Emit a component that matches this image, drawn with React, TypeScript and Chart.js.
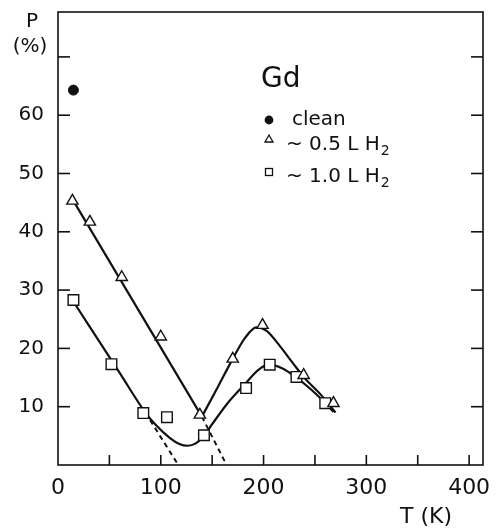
import React, { useEffect, useRef } from "react";
import { Chart, registerables } from "chart.js";
Chart.register(...registerables);

const cleanT = [15];
const cleanP = [64.3];
const lowT = [14, 31, 62, 100, 138, 170, 199, 239, 268];
const lowP = [45.3, 41.7, 32.2, 22.0, 8.6, 18.2, 24.0, 15.4, 10.6];
const highT = [15, 52, 83, 106, 142, 183, 206, 232, 260];
const highP = [28.3, 17.3, 8.9, 8.2, 5.1, 13.2, 17.2, 15.1, 10.6];

// Guide curves
const lowLineT = [14, 140];
const lowLineP = [45.6, 8.3];
const lowCurveT = [140, 155, 170, 182, 193, 203, 215, 228, 240, 255, 270];
const lowCurveP = [8.3, 13.2, 18.2, 21.8, 23.6, 23.0, 20.6, 17.6, 14.9, 12.2, 9.0];
const highCurveT = [14, 60, 85, 95, 109, 118, 126, 134, 142, 150, 165, 182, 195, 205, 218, 232, 246, 259, 268];
const highCurveP = [28.3, 15.8, 9.0, 6.9, 4.6, 3.6, 3.3, 3.7, 5.0, 7.0, 10.6, 13.9, 16.3, 17.2, 16.6, 15.0, 13.0, 10.8, 9.1];
const lowDashT = [140, 164];
const lowDashP = [8.3, 0];
const highDashT = [85, 117];
const highDashP = [9.0, 0];

// Axis ticks
const xTickValues = [0, 50, 100, 150, 200, 250, 300, 350, 400];
const xLabelValues = [0, 100, 200, 300, 400];
const yTickValues = [10, 20, 30, 40, 50, 60, 70];
const yLabelValues = [10, 20, 30, 40, 50, 60];

const xTitle = "T (K)";
const yTitle1 = "P";
const yTitle2 = "(%)";
const elementLabel = "Gd";
const legendLabels = ["clean", "~ 0.5 L H", "~ 1.0 L H"];

const INK = "#111";
const FONT = "'DejaVu Sans', sans-serif";

const pts = (xs: number[], ys: number[]) => xs.map((x, i) => ({ x, y: ys[i] }));

const decor = {
  id: "decor",
  afterDraw(chart: any) {
    const { ctx, chartArea: a, scales } = chart;
    const x = scales.x;
    const y = scales.y;
    ctx.save();
    ctx.strokeStyle = INK;
    ctx.lineWidth = 1.6;
    ctx.strokeRect(a.left, a.top, a.right - a.left, a.bottom - a.top);
    const line = (x1: number, y1: number, x2: number, y2: number) => {
      ctx.beginPath();
      ctx.moveTo(x1, y1);
      ctx.lineTo(x2, y2);
      ctx.stroke();
    };
    xTickValues.forEach((v) => {
      if (v === 0) return;
      const px = x.getPixelForValue(v);
      line(px, a.bottom, px, a.bottom - 10);
    });
    yTickValues.forEach((v) => {
      const py = y.getPixelForValue(v);
      line(a.left, py, a.left + 12, py);
      line(a.right, py, a.right - 12, py);
    });

    ctx.fillStyle = INK;
    ctx.textBaseline = "alphabetic";
    ctx.textAlign = "center";
    ctx.font = `20px ${FONT}`;
    ctx.fillText(yTitle1, 32, 27);
    ctx.fillText(yTitle2, 30, 52);
    ctx.font = `22px ${FONT}`;
    ctx.fillText(xTitle, 426, 523);

    ctx.textAlign = "left";
    ctx.font = `28px ${FONT}`;
    ctx.fillText(elementLabel, 261, 87);

    // legend
    ctx.font = `20px ${FONT}`;
    ctx.fillText(legendLabels[0], 292, 125);
    const sub = (label: string, bx: number, by: number) => {
      ctx.font = `20px ${FONT}`;
      ctx.fillText(label, bx, by);
      const w = ctx.measureText(label).width;
      ctx.font = `14px ${FONT}`;
      ctx.fillText("2", bx + w + 1, by + 5);
    };
    sub(legendLabels[1], 286, 150);
    sub(legendLabels[2], 286, 182);

    ctx.beginPath();
    ctx.arc(269, 120, 4.4, 0, Math.PI * 2);
    ctx.fill();
    ctx.lineWidth = 1.3;
    ctx.beginPath();
    ctx.moveTo(269, 135);
    ctx.lineTo(273, 142);
    ctx.lineTo(265, 142);
    ctx.closePath();
    ctx.stroke();
    ctx.strokeRect(265.5, 168.5, 7, 7);
    ctx.restore();
  },
};

export default function App() {
  const ref = useRef<HTMLCanvasElement>(null);
  useEffect(() => {
    document.body.style.margin = "0";
    const lineDs = (data: any[], extra: any = {}) => ({
      data,
      showLine: true,
      borderColor: INK,
      borderWidth: 2.2,
      pointRadius: 0,
      pointHoverRadius: 0,
      fill: false,
      order: 2,
      ...extra,
    });
    const chart = new Chart(ref.current!, {
      type: "scatter",
      data: {
        datasets: [
          {
            data: pts(cleanT, cleanP),
            pointStyle: "circle",
            pointRadius: 5,
            backgroundColor: INK,
            borderColor: INK,
            order: 0,
          },
          {
            data: pts(lowT, lowP),
            pointStyle: "triangle",
            pointRadius: 6.5,
            backgroundColor: "#fff",
            borderColor: INK,
            pointBorderWidth: 1.4,
            order: 0,
          },
          {
            data: pts(highT, highP),
            pointStyle: "rect",
            pointRadius: 7.5,
            backgroundColor: "#fff",
            borderColor: INK,
            pointBorderWidth: 1.4,
            order: 0,
          },
          lineDs(pts(lowLineT, lowLineP), { tension: 0 }),
          lineDs(pts(lowCurveT, lowCurveP), { cubicInterpolationMode: "monotone" }),
          lineDs(pts(highCurveT, highCurveP), { cubicInterpolationMode: "monotone" }),
          lineDs(pts(lowDashT, lowDashP), { borderDash: [5, 4], borderWidth: 2 }),
          lineDs(pts(highDashT, highDashP), { borderDash: [5, 4], borderWidth: 2 }),
        ],
      },
      options: {
        animation: false,
        responsive: false,
        maintainAspectRatio: false,
        layout: { padding: { left: 0, top: 12, right: 14, bottom: 0 } },
        plugins: { legend: { display: false }, tooltip: { enabled: false } },
        scales: {
          x: {
            type: "linear",
            min: 0,
            max: 413.5,
            grid: { display: false, drawTicks: false },
            border: { display: false },
            afterFit: (s: any) => {
              s.height = 64;
              s.paddingLeft = 0;
              s.paddingRight = 0;
            },
            afterBuildTicks: (s: any) => {
              s.ticks = xLabelValues.map((v) => ({ value: v }));
            },
            ticks: {
              padding: 10,
              color: INK,
              font: { family: FONT, size: 22 },
              maxRotation: 0,
              autoSkip: false,
              callback: (v: any) => String(v),
            },
          },
          y: {
            type: "linear",
            min: 0,
            max: 77.7,
            grid: { display: false, drawTicks: false },
            border: { display: false },
            afterFit: (s: any) => {
              s.width = 58;
              s.paddingTop = 0;
              s.paddingBottom = 0;
            },
            afterBuildTicks: (s: any) => {
              s.ticks = yLabelValues.map((v) => ({ value: v }));
            },
            ticks: {
              padding: 14,
              color: INK,
              font: { family: FONT, size: 20 },
              autoSkip: false,
              callback: (v: any) => String(v),
            },
          },
        },
      },
      plugins: [decor],
    });
    return () => chart.destroy();
  }, []);
  return <canvas ref={ref} width={497} height={529} style={{ display: "block" }} />;
}
